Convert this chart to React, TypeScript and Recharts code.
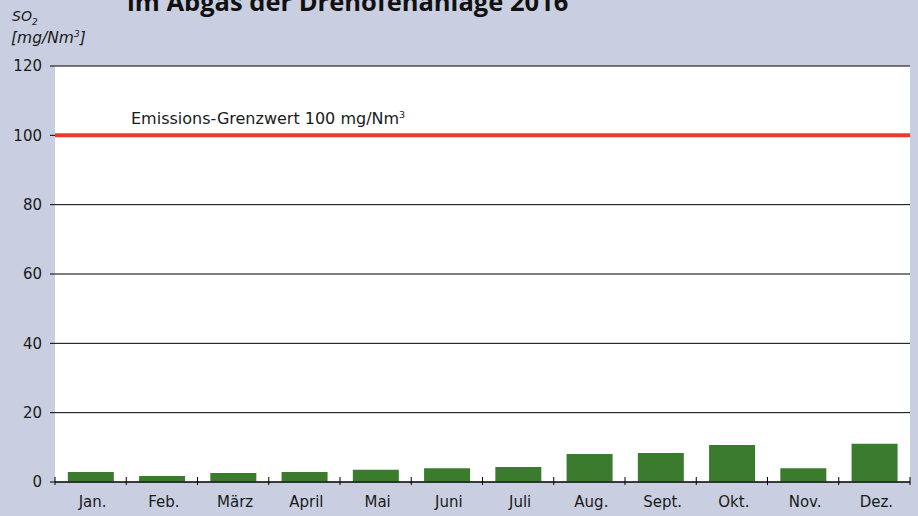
import React from 'react';
import { BarChart, Bar, XAxis, YAxis, CartesianGrid, ReferenceLine } from 'recharts';

const months = ['Jan.', 'Feb.', 'März', 'April', 'Mai', 'Juni', 'Juli', 'Aug.', 'Sept.', 'Okt.', 'Nov.', 'Dez.'];
const so2Values = [2.9, 1.7, 2.6, 2.9, 3.5, 4.0, 4.3, 8.1, 8.4, 10.7, 4.0, 11.0];
const yTicks = [0, 20, 40, 60, 80, 100, 120];
const limitValue = 100;

const data = months.map((m, i) => ({ name: m, so2: so2Values[i] }));

const BG = '#c9cfe1';
const FONT = '"DejaVu Sans", "Noto Sans", sans-serif';
const TITLE_FONT = '"Open Sans", "Noto Sans", sans-serif';

const MonthTick = (props: any) => {
  const { x, y, payload, width, visibleTicksCount, index } = props;
  const half = width / visibleTicksCount / 2;
  const isLast = index === visibleTicksCount - 1;
  return (
    <g>
      <line x1={x - half} x2={x - half} y1={y - 5} y2={y + 3} stroke="#000" strokeWidth={1} />
      {isLast && <line x1={x + half} x2={x + half} y1={y - 5} y2={y + 3} stroke="#000" strokeWidth={1} />}
      <text x={x + 2} y={y + 25} textAnchor="middle" fontSize={15} fill="#1a1a1a" fontFamily={FONT}>
        {payload.value}
      </text>
    </g>
  );
};

const LimitLabel = (props: any) => {
  const { viewBox } = props;
  return (
    <text x={viewBox.x + 76} y={viewBox.y - 11} fontSize={16} fill="#1a1a1a" fontFamily={FONT}>
      Emissions-Grenzwert 100 mg/Nm<tspan fontSize={9.5} dy={-6}>3</tspan>
    </text>
  );
};

export default function App() {
  return (
    <div style={{ position: 'absolute', left: 0, top: 0, width: 918, height: 516, background: BG, overflow: 'hidden' }}>
      <BarChart
        width={918}
        height={516}
        data={data}
        margin={{ top: 66, right: 8, left: 0, bottom: 0 }}
        barCategoryGap="18%"
      >
        <CartesianGrid vertical={false} stroke="#000" strokeWidth={1} fill="#fff" fillOpacity={1} />
        <XAxis
          dataKey="name"
          height={34}
          tickSize={0}
          tickMargin={0}
          tickLine={false}
          axisLine={{ stroke: '#000', strokeWidth: 1 }}
          tick={<MonthTick />}
          interval={0}
        />
        <YAxis
          width={55}
          domain={[0, 120]}
          ticks={yTicks}
          axisLine={false}
          tickLine={{ stroke: '#000', strokeWidth: 1 }}
          tickSize={5}
          tickMargin={8}
          tick={{ fontSize: 15, fill: '#1a1a1a', fontFamily: FONT }}
        />
        <Bar dataKey="so2" fill="#3a7b2e" isAnimationActive={false} />
        <ReferenceLine y={limitValue} stroke="#ee3a2e" strokeWidth={4} label={<LimitLabel />} />
      </BarChart>
      <svg width={918} height={516} style={{ position: 'absolute', left: 0, top: 0, pointerEvents: 'none' }}>
        <text x={127} y={11} fontSize={25.5} fontWeight="bold" fill="#111" fontFamily={TITLE_FONT}>
          im Abgas der Drehofenanlage 2016
        </text>
        <text x={12} y={21} fontSize={14} fontStyle="italic" fill="#1a1a1a" fontFamily={FONT}>
          SO<tspan fontSize={9} dy={4}>2</tspan>
        </text>
        <text x={11} y={43} fontSize={15.5} fontStyle="italic" fill="#1a1a1a" fontFamily={FONT}>
          [mg/Nm<tspan fontSize={9} dy={-6}>3</tspan><tspan dy={6}>]</tspan>
        </text>
      </svg>
    </div>
  );
}
